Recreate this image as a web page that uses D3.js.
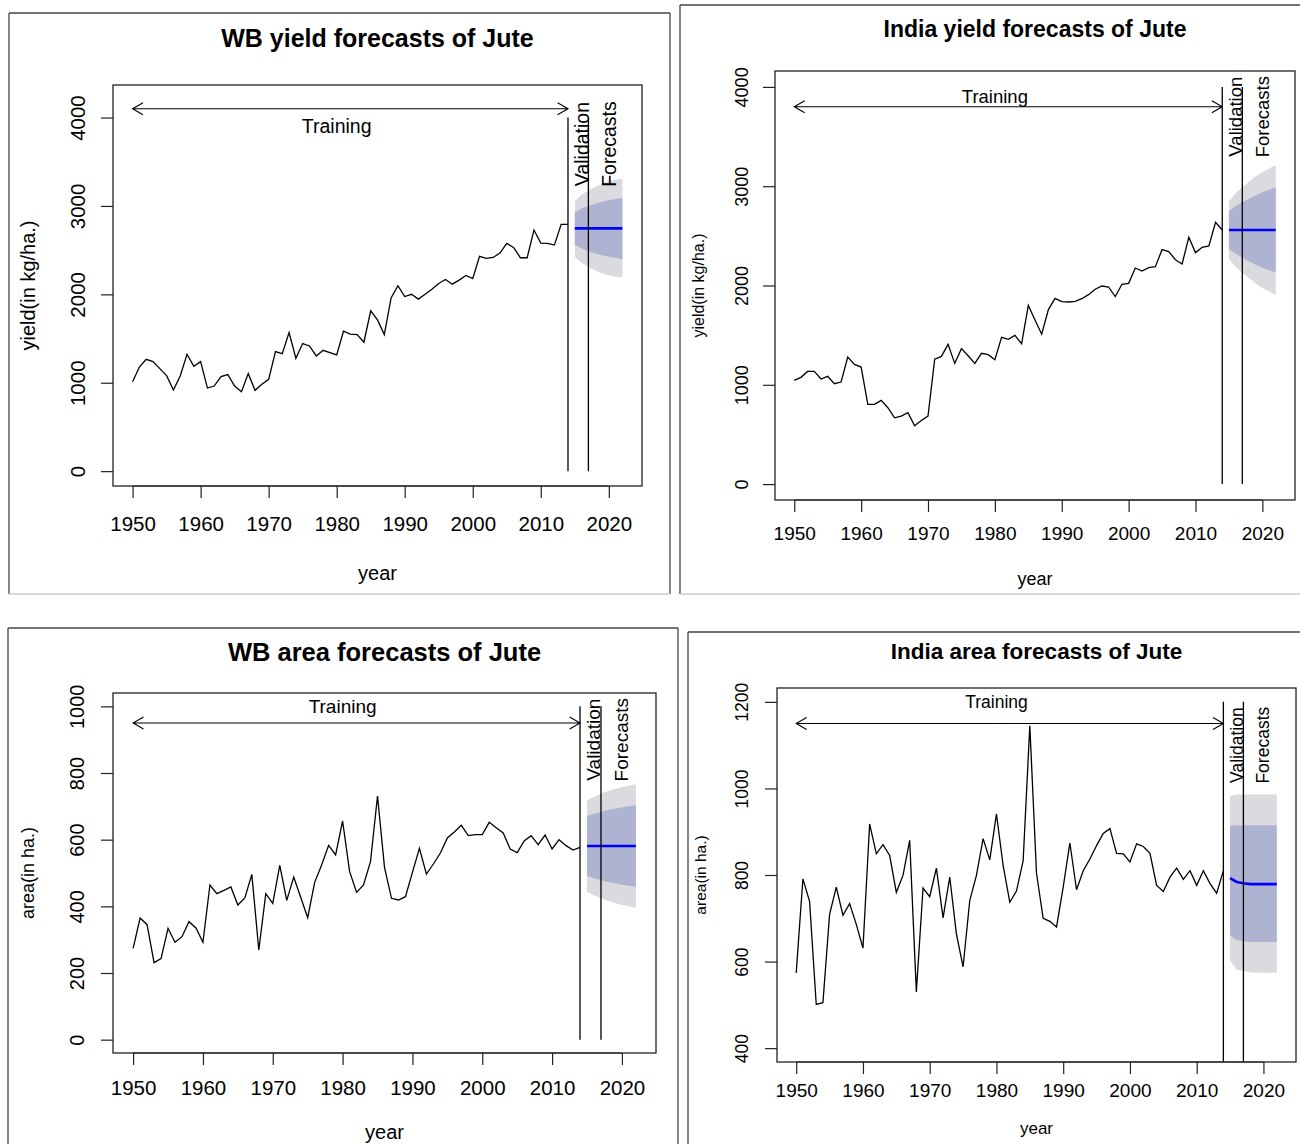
<!DOCTYPE html>
<html><head><meta charset="utf-8">
<script src="https://cdn.jsdelivr.net/npm/d3@7"></script>
<style>body{margin:0;background:#fff}svg{display:block}</style>
</head><body>
<svg id="c" width="1300" height="1144"></svg>
<script>
// ---------------- DATA ----------------
const trainYears = d3.range(1950, 2015);   // 1950..2014
const fcYears = d3.range(2015, 2023);      // 2015..2022
const xTicks = [1950, 1960, 1970, 1980, 1990, 2000, 2010, 2020];

// WB yield (kg/ha)
const wbYield = [1012,1178,1265,1239,1160,1080,917,1076,1322,1186,
  1239,940,963,1069,1092,963,899,1103,914,982,
  1039,1352,1329,1567,1277,1443,1416,1303,1367,1341,
  1314,1583,1549,1545,1458,1813,1711,1545,1960,2098,
  1975,2000,1946,2002,2058,2123,2168,2115,2161,2213,
  2179,2429,2406,2417,2467,2576,2531,2414,2414,2727,
  2580,2576,2557,2791,2791];
const wbYieldFc   = [2746,2746,2746,2746,2746,2746,2746,2746];
const wbYieldUp80 = [2927,2971,3001,3026,3046,3064,3078,3090];
const wbYieldLo80 = [2560,2518,2488,2463,2443,2425,2410,2398];
const wbYieldUp95 = [3052,3126,3176,3216,3251,3276,3296,3309];
const wbYieldLo95 = [2425,2356,2308,2270,2238,2215,2200,2191];
const wbYieldTicks = [0,1000,2000,3000,4000];

// India yield (kg/ha)
const inYield = [1045,1075,1135,1135,1058,1085,1011,1028,1280,1206,
  1179,803,803,843,769,668,685,719,588,641,
  685,1259,1286,1407,1216,1364,1293,1216,1317,1303,
  1253,1478,1458,1498,1414,1800,1652,1510,1757,1870,
  1837,1834,1841,1867,1908,1962,1995,1985,1888,2012,
  2022,2176,2146,2180,2190,2361,2341,2260,2217,2486,
  2331,2385,2398,2637,2559];
const inYieldFc   = [2559,2559,2559,2559,2559,2559,2559,2559];
const inYieldUp80 = [2749,2799,2839,2874,2909,2939,2964,2986];
const inYieldLo80 = [2369,2319,2279,2244,2209,2179,2154,2132];
const inYieldUp95 = [2849,2929,2989,3044,3099,3144,3179,3214];
const inYieldLo95 = [2269,2189,2129,2074,2019,1974,1939,1904];
const inYieldTicks = [0,1000,2000,3000,4000];

// WB area (ha)
const wbArea = [274,365,345,231,243,334,292,309,354,335,
  292,464,438,448,458,404,425,496,269,438,
  409,523,418,488,427,366,472,524,583,554,
  656,505,442,464,535,731,517,424,419,429,
  502,574,497,527,560,605,623,643,612,615,
  615,652,636,620,572,561,596,612,585,614,
  572,600,582,569,577];
const wbAreaFc   = [581,581,581,581,581,581,581,581];
const wbAreaUp80 = [671,678,684,689,693,697,700,703];
const wbAreaLo80 = [491,484,478,473,469,465,462,459];
const wbAreaUp95 = [718,729,738,746,752,758,762,766];
const wbAreaLo95 = [444,433,424,416,410,404,400,396];
const wbAreaTicks = [0,200,400,600,800,1000];

// India area (ha)
const inArea = [574,791,739,501,505,709,772,707,734,686,
  631,918,849,870,845,760,799,880,530,770,
  750,816,701,795,664,588,741,799,884,835,
  941,822,737,763,833,1145,804,700,693,680,
  772,874,766,810,837,868,896,907,850,849,
  830,872,866,850,776,762,795,816,790,810,
  776,810,780,758,810];
const inAreaFc   = [793,784,781,779,779,779,779,779];
const inAreaUp80 = [913,915,915,915,915,915,915,915];
const inAreaLo80 = [660,650,647,645,645,645,645,645];
const inAreaUp95 = [983,986,986,986,986,986,986,986];
const inAreaLo95 = [603,581,578,575,574,574,574,574];
const inAreaTicks = [400,600,800,1000,1200];

const titles = ["WB yield forecasts of Jute","India yield forecasts of Jute",
                "WB area forecasts of Jute","India area forecasts of Jute"];
const yLabels = ["yield(in kg/ha.)","yield(in kg/ha.)","area(in ha.)","area(in ha.)"];
const xLabel = "year";
const phaseLabels = ["Training","Validation","Forecasts"];
const phaseYears = [1950, 2014, 2017]; // training start, validation start, forecast start
// annotation anchor values per panel: [arrowY, trainingTextY, rotatedTextY]
const annotY = [[4100,3900,3700],[3800,3900,3700],[950,1000,900],[1150,1200,1100]];
const ylims = [[0,4200],[0,4000],[0,1000],[400,1200]];
const xlim = [1950, 2022];

// ---------------- LAYOUT ----------------
const FONT = "'Liberation Sans', Arial, Helvetica, sans-serif";
const panels = [
 {frame:[9,13,670,594], plot:[113,85,642,486], titleY:38, titleSize:25,
  xtDy:37, xtSize:20.5, ytDx:36, ytSize:20.5, xlabY:573, xlabSize:20, ylabX:28, ylabSize:20, annot:19.5, tick:12},
 {frame:[680,5,1320,594], plot:[775,71,1295,500], titleY:29, titleSize:23,
  xtDy:33, xtSize:19, ytDx:33, ytSize:18, xlabY:579, xlabSize:18, ylabX:698, ylabSize:16, annot:18.5, tick:12},
 {frame:[8,628,678,1160], plot:[113,693,656,1053], titleY:652, titleSize:25.5,
  xtDy:34, xtSize:20.5, ytDx:36, ytSize:20, xlabY:1132, xlabSize:20, ylabX:28, ylabSize:18, annot:19, tick:12},
 {frame:[688,632,1320,1160], plot:[777,688,1296,1062], titleY:651, titleSize:22.5,
  xtDy:28, xtSize:19, ytDx:35, ytSize:17.5, xlabY:1128, xlabSize:17, ylabX:700, ylabSize:15.5, annot:17.5, tick:12}
];
const series = [
 {train:wbYield, fc:wbYieldFc, up80:wbYieldUp80, lo80:wbYieldLo80, up95:wbYieldUp95, lo95:wbYieldLo95, ticks:wbYieldTicks},
 {train:inYield, fc:inYieldFc, up80:inYieldUp80, lo80:inYieldLo80, up95:inYieldUp95, lo95:inYieldLo95, ticks:inYieldTicks},
 {train:wbArea, fc:wbAreaFc, up80:wbAreaUp80, lo80:wbAreaLo80, up95:wbAreaUp95, lo95:wbAreaLo95, ticks:wbAreaTicks},
 {train:inArea, fc:inAreaFc, up80:inAreaUp80, lo80:inAreaLo80, up95:inAreaUp95, lo95:inAreaLo95, ticks:inAreaTicks}
];

const svg = d3.select("#c");
const ext = (lim) => { const r = lim[1]-lim[0]; return [lim[0]-0.04*r, lim[1]+0.04*r]; };

panels.forEach((P, i) => {
  const S = series[i];
  const g = svg.append("g");
  const [fx0, fy0, fx1, fy1] = P.frame;
  // outer frame
  g.append("line").attr("x1",fx0).attr("y1",fy0).attr("x2",fx1).attr("y2",fy0).attr("stroke","#444").attr("stroke-width",1.3);
  g.append("line").attr("x1",fx0).attr("y1",fy0).attr("x2",fx0).attr("y2",fy1).attr("stroke","#444").attr("stroke-width",1.3);
  g.append("line").attr("x1",fx1).attr("y1",fy0).attr("x2",fx1).attr("y2",fy1).attr("stroke","#444").attr("stroke-width",1.3);
  g.append("line").attr("x1",fx0).attr("y1",fy1).attr("x2",fx1).attr("y2",fy1).attr("stroke","#ccc").attr("stroke-width",1.3);

  const [L, T, R, B] = P.plot;
  const x = d3.scaleLinear().domain(ext(xlim)).range([L, R]);
  const y = d3.scaleLinear().domain(ext(ylims[i])).range([B, T]);

  const clipId = "clip" + i;
  g.append("clipPath").attr("id", clipId).append("rect").attr("x",L).attr("y",T).attr("width",R-L).attr("height",B-T);
  const pg = g.append("g").attr("clip-path", `url(#${clipId})`);

  const fcData = fcYears.map((yr, k) => ({yr, fc:S.fc[k], up80:S.up80[k], lo80:S.lo80[k], up95:S.up95[k], lo95:S.lo95[k]}));
  pg.append("path").datum(fcData)
    .attr("d", d3.area().x(d => x(d.yr)).y0(d => y(d.lo95)).y1(d => y(d.up95)))
    .attr("fill", "#DADADF");
  pg.append("path").datum(fcData)
    .attr("d", d3.area().x(d => x(d.yr)).y0(d => y(d.lo80)).y1(d => y(d.up80)))
    .attr("fill", "#AEB3D1");

  const tr = trainYears.map((yr, k) => ({yr, v:S.train[k]}));
  pg.append("path").datum(tr)
    .attr("d", d3.line().x(d => x(d.yr)).y(d => y(d.v)))
    .attr("fill","none").attr("stroke","#000").attr("stroke-width",1.3);

  pg.append("path").datum(fcData)
    .attr("d", d3.line().x(d => x(d.yr)).y(d => y(d.fc)))
    .attr("fill","none").attr("stroke","#0000FF").attr("stroke-width",2.6);

  // vertical phase lines
  const topTick = S.ticks[S.ticks.length-1];
  [phaseYears[1], phaseYears[2]].forEach(yr => {
    pg.append("line").attr("x1",x(yr)).attr("x2",x(yr)).attr("y1",y(0)).attr("y2",y(topTick))
      .attr("stroke","#000").attr("stroke-width",1.3);
  });

  // training double arrow
  const [aY, tY, rY] = annotY[i];
  const ay = y(aY), ax0 = x(phaseYears[0]), ax1 = x(phaseYears[1]);
  const hl = 12, ha = Math.PI/6;
  const hx = hl*Math.cos(ha), hy = hl*Math.sin(ha);
  g.append("path")
    .attr("d", `M${ax0},${ay}L${ax1},${ay}` +
               `M${ax0+hx},${ay-hy}L${ax0},${ay}L${ax0+hx},${ay+hy}` +
               `M${ax1-hx},${ay-hy}L${ax1},${ay}L${ax1-hx},${ay+hy}`)
    .attr("fill","none").attr("stroke","#000").attr("stroke-width",1.1);
  g.append("text").attr("x", x(1980)).attr("y", y(tY))
    .attr("text-anchor","middle").attr("dominant-baseline","central")
    .attr("font-family",FONT).attr("font-size",P.annot).text(phaseLabels[0]);
  [[2016, phaseLabels[1]], [2020, phaseLabels[2]]].forEach(([yr, lab]) => {
    const tx = x(yr), ty = y(rY);
    g.append("text").attr("x",tx).attr("y",ty)
      .attr("transform",`rotate(-90,${tx},${ty})`)
      .attr("text-anchor","middle").attr("dominant-baseline","central")
      .attr("font-family",FONT).attr("font-size",P.annot).text(lab);
  });

  // plot box
  g.append("rect").attr("x",L).attr("y",T).attr("width",R-L).attr("height",B-T)
    .attr("fill","none").attr("stroke","#222").attr("stroke-width",1.3);

  // x axis
  const xa = g.append("g").attr("transform",`translate(0,${B})`)
    .call(d3.axisBottom(x).tickValues(xTicks).tickSize(P.tick).tickFormat(d3.format("d")));
  xa.select(".domain").remove();
  xa.selectAll(".tick line").attr("stroke","#222").attr("stroke-width",1.2);
  xa.selectAll(".tick text").attr("y", P.xtDy).attr("dy",null).attr("dominant-baseline","central")
    .attr("font-family",FONT).attr("font-size",P.xtSize).attr("fill","#000");
  g.append("line").attr("x1",x(xTicks[0])).attr("x2",x(xTicks[xTicks.length-1])).attr("y1",B).attr("y2",B)
    .attr("stroke","#222").attr("stroke-width",1.2);

  // y axis
  const ya = g.append("g").attr("transform",`translate(${L},0)`)
    .call(d3.axisLeft(y).tickValues(S.ticks).tickSize(P.tick).tickFormat(d3.format("d")));
  ya.select(".domain").remove();
  ya.selectAll(".tick line").attr("stroke","#222").attr("stroke-width",1.2);
  ya.selectAll(".tick text").attr("x",null).attr("y",null).attr("dy",null)
    .attr("transform",`translate(${-P.ytDx},0) rotate(-90)`)
    .attr("text-anchor","middle").attr("dominant-baseline","central")
    .attr("font-family",FONT).attr("font-size",P.ytSize).attr("fill","#000");

  // titles
  g.append("text").attr("x",(L+R)/2).attr("y",P.titleY).attr("text-anchor","middle").attr("dominant-baseline","central")
    .attr("font-family",FONT).attr("font-weight","bold").attr("font-size",P.titleSize).text(titles[i]);
  g.append("text").attr("x",(L+R)/2).attr("y",P.xlabY).attr("text-anchor","middle").attr("dominant-baseline","central")
    .attr("font-family",FONT).attr("font-size",P.xlabSize).text(xLabel);
  const cy = (T+B)/2;
  g.append("text").attr("x",P.ylabX).attr("y",cy).attr("transform",`rotate(-90,${P.ylabX},${cy})`)
    .attr("text-anchor","middle").attr("dominant-baseline","central")
    .attr("font-family",FONT).attr("font-size",P.ylabSize).text(yLabels[i]);
});
</script>
</body></html>
